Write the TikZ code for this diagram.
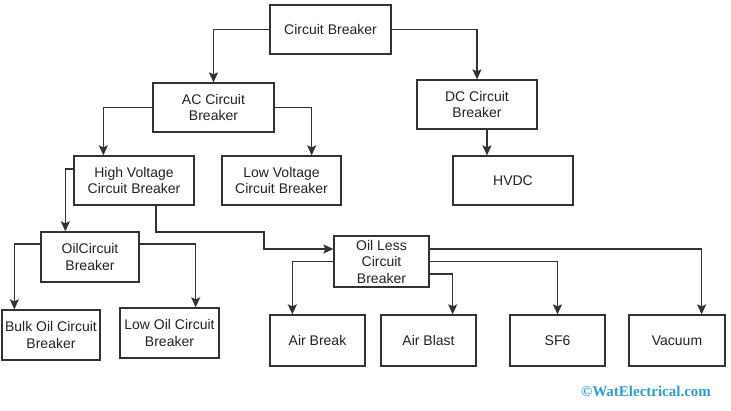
\documentclass[tikz,border=0pt]{standalone}
\usepackage{fontspec}
\setmainfont{Liberation Sans}
\newfontfamily\wmfont{Liberation Serif}
\usetikzlibrary{arrows.meta}
\definecolor{lc}{HTML}{333333}
\definecolor{tc}{HTML}{222222}
\definecolor{wm}{HTML}{2E9BD6}
\tikzset{
  box/.style={draw=lc, line width=1.3pt, rectangle, inner sep=0pt, align=center,
    text=tc, font=\fontsize{14}{16.5}\selectfont},
  arr/.style={draw=lc, line width=1.3pt, -{Stealth[length=10pt,width=9pt,inset=2pt]}},
}
\begin{document}
\begin{tikzpicture}[x=1pt,y=-1pt]
\useasboundingbox (0,0) rectangle (731,410);
\node[box, minimum width=121pt, minimum height=49pt] (CB) at (330.5,29.5) {Circuit Breaker};
\node[box, minimum width=121pt, minimum height=49pt] (AC) at (213.5,107.5) {AC Circuit\\Breaker};
\node[box, minimum width=120pt, minimum height=49pt] (DC) at (477,104.5) {DC Circuit\\Breaker};
\node[box, minimum width=120pt, minimum height=49pt] (HV) at (134,180.5) {High Voltage\\Circuit Breaker};
\node[box, minimum width=119pt, minimum height=49pt] (LV) at (281.5,180.5) {Low Voltage\\Circuit Breaker};
\node[box, minimum width=120pt, minimum height=49pt] (HVDC) at (513,180.5) {HVDC};
\node[box, minimum width=98pt, minimum height=50pt] (OCB) at (90,257) {OilCircuit\\Breaker};
\node[box, minimum width=95pt, minimum height=51pt] (OL) at (381.5,261.5) {Oil Less\\Circuit\\Breaker};
\node[box, minimum width=98pt, minimum height=50pt] (BO) at (51,335) {Bulk Oil Circuit\\Breaker};
\node[box, minimum width=99pt, minimum height=50pt] (LO) at (169.5,333) {Low Oil Circuit\\Breaker};
\node[box, minimum width=95pt, minimum height=51pt] (AB) at (317.5,340.5) {Air Break};
\node[box, minimum width=95pt, minimum height=51pt] (ABL) at (428.5,340.5) {Air Blast};
\node[box, minimum width=95pt, minimum height=51pt] (SF) at (557.5,340.5) {SF6};
\node[box, minimum width=96pt, minimum height=51pt] (VAC) at (677,340.5) {Vacuum};
\node[text=wm, font=\wmfont\bfseries\fontsize{15}{18}\selectfont, inner sep=0pt] (wmk) at (646,391) {©WatElectrical.com};

\coordinate (j1) at (264,232);
\draw[arr] (CB.west) -| (AC.north);
\draw[arr] (CB.east) -| (DC.north);
\draw[arr] (AC.west) -| ([xshift=30pt]HV.north west);
\draw[arr] (AC.east) -| ([xshift=-30pt]LV.north east);
\draw[arr] ([xshift=10pt]DC.south) -- ([xshift=10pt]DC.south |- HVDC.north);
\draw[arr] ([yshift=11.5pt]HV.west) -| ([xshift=25pt]OCB.north west);
\draw[arr] ([yshift=13pt]OCB.west) -| ([xshift=13pt]BO.north west);
\draw[arr] ([yshift=13pt]OCB.east) -| ([xshift=-24pt]LO.north east);
\draw[arr] ([xshift=22pt]HV.south) |- (j1) |- ([yshift=12.5pt]OL.west);
\draw[arr] (OL.west) -| ([xshift=23pt]AB.north west);
\draw[arr] ([yshift=-12.5pt]OL.east) -| ([xshift=-24pt]ABL.north east);
\draw[arr] (OL.east) -| (SF.north);
\draw[arr] ([yshift=12.5pt]OL.east) -| ([xshift=-24pt]VAC.north east);
\end{tikzpicture}
\end{document}
